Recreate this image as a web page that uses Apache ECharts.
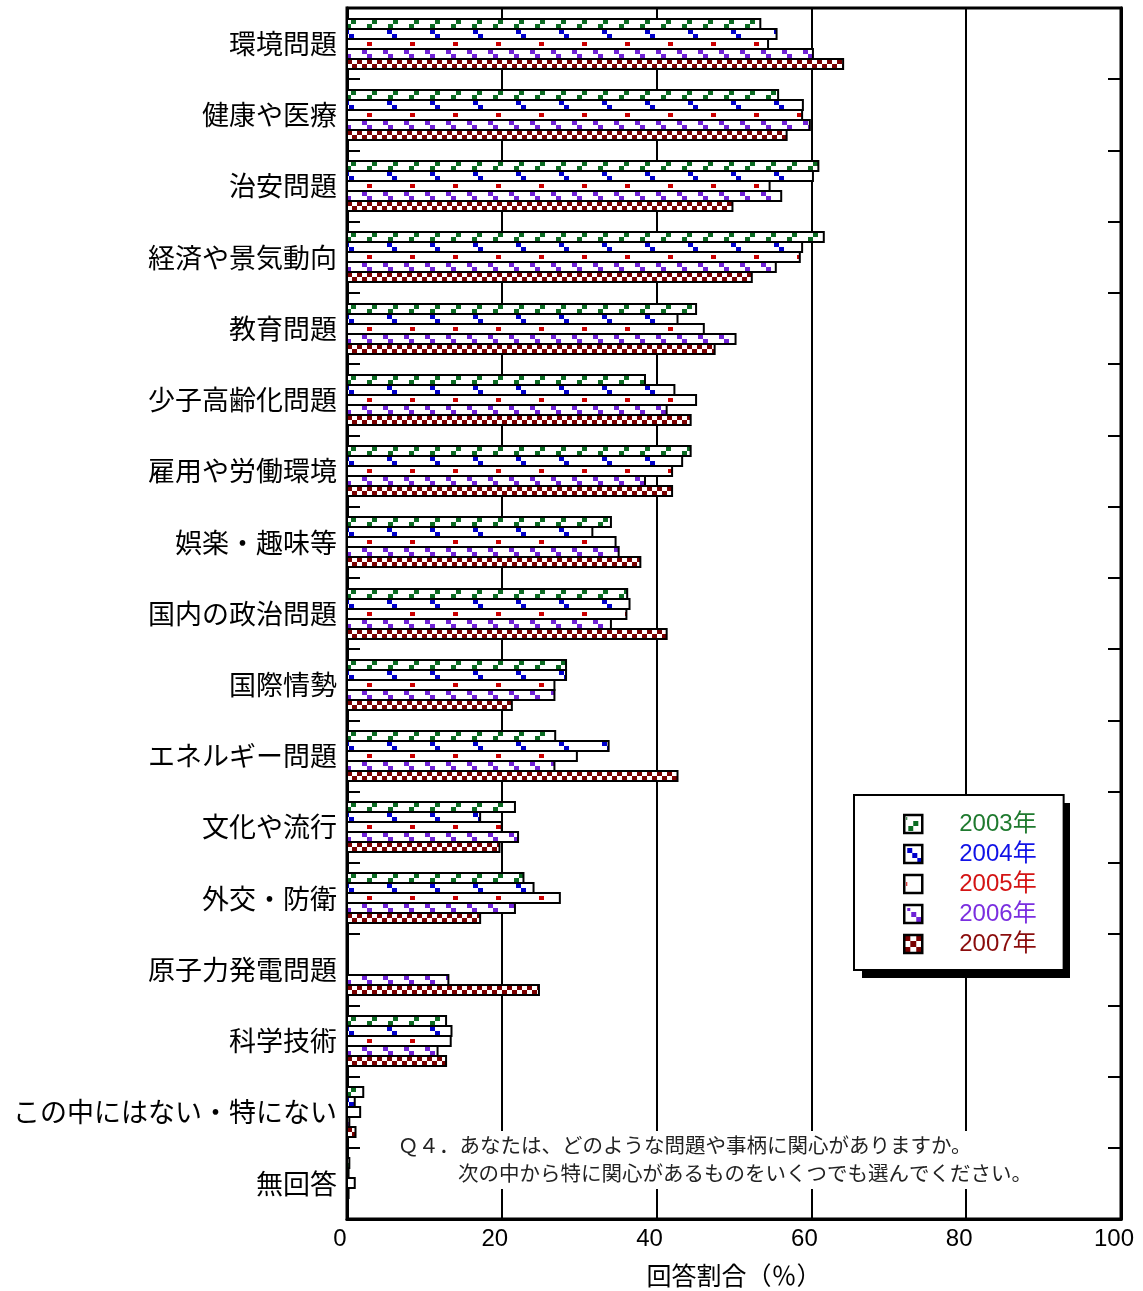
<!DOCTYPE html>
<html><head><meta charset="utf-8">
<script src="https://cdn.jsdelivr.net/npm/echarts@6/dist/echarts.min.js"></script>
<style>html,body{margin:0;padding:0;background:#fff}#c{width:1143px;height:1291px}</style>
</head><body><div id="c"></div>
<script>
const categories = ['環境問題','健康や医療','治安問題','経済や景気動向','教育問題','少子高齢化問題','雇用や労働環境','娯楽・趣味等','国内の政治問題','国際情勢','エネルギー問題','文化や流行','外交・防衛','原子力発電問題','科学技術','この中にはない・特にない','無回答'];
const years = ['2003年','2004年','2005年','2006年','2007年'];
const v2003 = [53.4, 55.7, 60.9, 61.6, 45.1, 38.5, 44.4, 34.1, 36.2, 28.3, 26.9, 21.7, 22.8, null, 12.8, 2.1, 0.3];
const v2004 = [55.5, 58.9, 60.2, 58.8, 42.7, 42.3, 43.3, 31.7, 36.5, 28.3, 33.8, 17.2, 24.1, null, 13.5, 1.0, 0.2];
const v2005 = [54.4, 58.8, 54.6, 58.5, 46.1, 45.1, 42.0, 34.7, 36.1, 26.8, 29.7, 20.0, 27.5, null, 13.4, 1.7, 1.0];
const v2006 = [60.2, 59.8, 56.1, 55.4, 50.2, 41.3, 38.5, 35.1, 34.1, 26.8, 26.8, 22.1, 21.7, 13.1, 11.7, 0.3, 0.2];
const v2007 = [64.1, 56.8, 49.8, 52.3, 47.5, 44.4, 42.0, 37.9, 41.3, 21.3, 42.7, 19.7, 17.2, 24.8, 12.8, 1.1, 0.0];
const question1 = 'Ｑ４．あなたは、どのような問題や事柄に関心がありますか。';
const question2 = '次の中から特に関心があるものをいくつでも選んでください。';
const xAxisName = '回答割合（％）';

const seriesValues = [v2003, v2004, v2005, v2006, v2007];
const markColors = ['#0b6b22', '#0000cc', '#cc0000', '#6f22d6', '#7a0000'];
const textColors = ['#1f7a2f', '#1212e6', '#d41414', '#7a2fe0', '#8a0c0c'];

function tile(w, h, rects, color) {
  const c = document.createElement('canvas');
  c.width = w; c.height = h;
  const g = c.getContext('2d');
  g.fillStyle = '#fff'; g.fillRect(0, 0, w, h);
  g.fillStyle = color;
  rects.forEach(r => g.fillRect(r[0], r[1], r[2], r[3]));
  return c;
}
const barTiles = [
  tile(21, 10, [[0,5,5,4],[5,1,5,4]], markColors[0]),
  tile(43, 10, [[0,1,5,4],[5,5,5,4]], markColors[1]),
  tile(43, 10, [[0,3,5,4]], markColors[2]),
  tile(21, 10, [[0,1,5,4],[5,5,5,4]], markColors[3]),
  tile(10, 10, [[0,1,5,4],[5,5,5,4]], markColors[4])
];
const barTileOffset = [-1, -3, 20, 15, 0];
const legendTiles = [
  tile(18, 18, [[2,2,1,3],[4,11,5,5],[9,6,5,5]], markColors[0]),
  tile(18, 18, [[3,3,5,5],[8,8,5,5],[13,13,5,5]], markColors[1]),
  tile(18, 18, [[2,7,1,4]], markColors[2]),
  tile(18, 18, [[3,3,3,3],[7,7,5,5],[12,12,5,5]], markColors[3]),
  tile(18, 18, [[0,0,6,6],[12,0,6,6],[6,6,6,6],[0,12,6,6],[12,12,6,6]], markColors[4])
];

function makeRender(s) {
  return function (params, api) {
    const v = api.value(0);
    const c = api.value(1);
    if (v == null || isNaN(v) || v <= 0) return null;
    const p0 = api.coord([0, c]);
    const p1 = api.coord([v, c]);
    const top = Math.round(p0[1] - 25) + 10 * s;
    const x0 = Math.round(p0[0]);
    return {
      type: 'rect',
      shape: { x: x0, y: top, width: Math.max(p1[0] - x0, 0), height: 10 },
      style: {
        fill: { image: barTiles[s], repeat: 'repeat', x: x0 + barTileOffset[s], y: top },
        stroke: '#000', lineWidth: 2
      }
    };
  };
}

const cjk = '"Noto Sans CJK JP", "Noto Sans", sans-serif';
const latin = '"Liberation Sans", Arial, "Noto Sans CJK JP", sans-serif';

const rich = {};
years.forEach((y, i) => {
  rich['y' + i] = { color: textColors[i], fontSize: 24, fontFamily: latin, padding: [0, 0, 0, 32] };
});

const chart = echarts.init(document.getElementById('c'), null, { renderer: 'canvas' });
chart.setOption({
  animation: false,
  backgroundColor: '#fff',
  grid: {
    left: 347, right: 22, top: 8, bottom: 72,
    show: true, borderColor: '#000', borderWidth: 3, backgroundColor: 'transparent',
    containLabel: false, outerBoundsMode: 'none'
  },
  xAxis: {
    type: 'value', min: 0, max: 100, interval: 20,
    axisLine: { show: true, lineStyle: { color: '#000', width: 3 } },
    axisTick: { show: false },
    splitLine: { show: true, lineStyle: { color: '#000', width: 2 } },
    axisLabel: { fontSize: 24, color: '#000', margin: 8, fontFamily: latin, padding: [0, 14, 0, 0] },
    name: xAxisName, nameLocation: 'middle', nameGap: 44,
    nameTextStyle: { fontSize: 25, color: '#000', fontFamily: cjk }
  },
  yAxis: [
    {
      type: 'category', data: categories, inverse: true, position: 'left',
      axisLine: { show: true, lineStyle: { color: '#000', width: 3 } },
      axisTick: { show: true, inside: true, length: 13, lineStyle: { color: '#000', width: 2 } },
      axisLabel: { fontSize: 27, color: '#000', margin: 10, fontFamily: cjk },
      splitLine: { show: false }
    },
    {
      type: 'category', data: categories, inverse: true, position: 'right',
      axisLine: { show: true, lineStyle: { color: '#000', width: 3 } },
      axisTick: { show: true, inside: true, length: 13, lineStyle: { color: '#000', width: 2 } },
      axisLabel: { show: false },
      splitLine: { show: false }
    }
  ],
  legend: {
    orient: 'vertical', left: 854, top: 795, z: 20,
    padding: [17, 27, 14, 49],
    itemWidth: 18, itemHeight: 18, itemGap: 6,
    backgroundColor: '#fff', borderColor: '#000', borderWidth: 2, borderRadius: 0,
    selectedMode: false,
    formatter: function (name) { return '{y' + years.indexOf(name) + '|' + name + '}'; },
    textStyle: { fontSize: 24, fontFamily: latin, rich: rich },
    data: years.map((y, i) => ({
      name: y, icon: 'rect',
      itemStyle: { color: { image: legendTiles[i], repeat: 'repeat' }, borderColor: '#000', borderWidth: 2.5 },
      textStyle: { color: textColors[i] }
    }))
  },
  graphic: [
    { type: 'rect', z: 10, shape: { x: 862, y: 803, width: 208, height: 175 }, style: { fill: '#000' } },
    { type: 'rect', z: 100, shape: { x: 392, y: 1131, width: 646, height: 58 }, style: { fill: '#fff' } },
    { type: 'text', z: 101, x: 398, y: 1145, style: { text: question1, fontSize: 20.5, fontFamily: cjk, fill: '#222', verticalAlign: 'middle' } },
    { type: 'text', z: 101, x: 458, y: 1173, style: { text: question2, fontSize: 20.5, fontFamily: cjk, fill: '#222', verticalAlign: 'middle' } }
  ],
  series: seriesValues.map((vals, s) => ({
    type: 'custom',
    name: years[s],
    renderItem: makeRender(s),
    encode: { x: 0, y: 1 },
    itemStyle: { color: { image: legendTiles[s], repeat: 'repeat' } },
    data: vals.map((v, i) => [v == null ? '-' : v, i]),
    z: 3
  }))
});
</script></body></html>
